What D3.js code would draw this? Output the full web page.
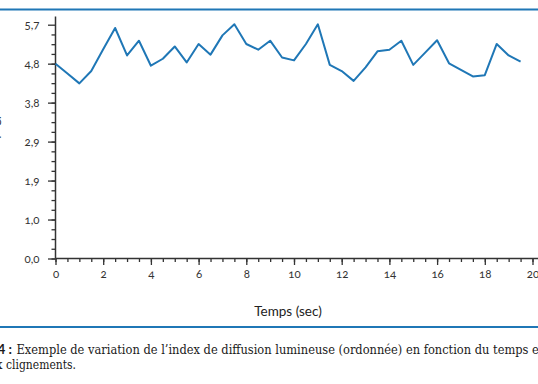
<!DOCTYPE html>
<html>
<head>
<meta charset="utf-8">
<script src="https://cdn.jsdelivr.net/npm/d3@7"></script>
<style>
  body{margin:0;background:#fff;}
  svg{display:block;}
  .tick text{font-family:Lato,"Open Sans",sans-serif;font-size:11.5px;fill:#333;font-variant-numeric:oldstyle-nums;}
</style>
</head>
<body>
<div id="chart"></div>
<script>
// time (sec), one point every 0.5 s
var times = [0,0.5,1,1.5,2,2.5,3,3.5,4,4.5,5,5.5,6,6.5,7,7.5,8,8.5,9,9.5,
	10,10.5,11,11.5,12,12.5,13,13.5,14,14.5,15,15.5,16,16.5,17,17.5,18,18.5,19,19.5];
var values = [4.75,4.51,4.27,4.57,5.10,5.62,4.95,5.31,4.70,4.87,5.17,4.78,5.23,4.97,5.44,5.71,5.23,5.09,5.31,4.90,
	4.83,5.23,5.71,4.72,4.57,4.33,4.66,5.05,5.09,5.31,4.72,5.02,5.32,4.76,4.60,4.44,4.47,5.23,4.95,4.80];
var yTicks = [0,0.95,1.9,2.85,3.8,4.75,5.7];
var yLabels = ["0,0","1,0","1,9","2,9","3,8","4,8","5,7"];
var xTicks = [0,2,4,6,8,10,12,14,16,18,20];

var W = 538, H = 384;
var blue = "#1f77b6", axisCol = "#333";

var svg = d3.select('#chart').append('svg').attr('width', W).attr('height', H);

var x = d3.scaleLinear().domain([0,20]).range([55.5,532.5]);
var y = d3.scaleLinear().domain([0,5.7]).range([258.5,24.7]);

// blue rules top and bottom
svg.append('line').attr('x1',0).attr('x2',W).attr('y1',9.5).attr('y2',9.5)
	.attr('stroke',blue).attr('stroke-width',2);
svg.append('line').attr('x1',0).attr('x2',W).attr('y1',327).attr('y2',327)
	.attr('stroke',blue).attr('stroke-width',2);

// minor ticks
var xMinor = d3.range(0, 20.01, 0.5);
var yMinor = d3.range(0, 24).map(function(i){ return i*0.95/4; });

svg.append('g').attr('transform','translate(0,'+y(0)+')')
	.call(d3.axisBottom(x).tickValues(xMinor).tickSize(3.5).tickFormat(''))
	.call(function(g){ g.select('.domain').remove(); });
svg.append('g').attr('transform','translate(0,'+y(0)+')')
	.call(d3.axisBottom(x).tickValues(xTicks).tickSize(6.5).tickPadding(5).tickFormat(d3.format('d')))
	.call(function(g){ g.select('.domain').remove(); });

svg.append('g').attr('transform','translate('+x(0)+',0)')
	.call(d3.axisLeft(y).tickValues(yMinor).tickSize(4).tickFormat(''))
	.call(function(g){ g.select('.domain').remove(); });
svg.append('g').attr('transform','translate('+x(0)+',0)')
	.call(d3.axisLeft(y).tickValues(yTicks).tickSize(7.5).tickPadding(8.5)
		.tickFormat(function(d,i){ return yLabels[i]; }))
	.call(function(g){ g.select('.domain').remove(); });

svg.selectAll('.tick line').attr('stroke',axisCol).attr('stroke-width',1.3);

// axis lines
svg.append('line').attr('x1',x(0)).attr('x2',W).attr('y1',y(0)).attr('y2',y(0))
	.attr('stroke',axisCol).attr('stroke-width',1.5);
svg.append('line').attr('x1',x(0)).attr('x2',x(0)).attr('y1',y(0)).attr('y2',16.5)
	.attr('stroke',axisCol).attr('stroke-width',1.5);

// data line
var line = d3.line().x(function(d,i){ return x(times[i]); }).y(function(d){ return y(d); });
svg.append('path').datum(values).attr('d',line)
	.attr('fill','none').attr('stroke',blue).attr('stroke-width',2).attr('stroke-linejoin','round');

// axis titles
svg.append('text').attr('x',288).attr('y',315.5).attr('text-anchor','middle')
	.style('font-family','Lato,"Open Sans",sans-serif').style('font-size','13.5px').style('fill','#222')
	.text('Temps (sec)');
// y title: only its lower edge shows at the left border in the reference
svg.append('text').attr('transform','translate(-1.5,139) rotate(-90)').attr('text-anchor','middle')
	.style('font-family','Lato,"Open Sans",sans-serif').style('font-size','13px').style('fill','#222')
	.text('IDL (log)');

// caption
var cap = svg.append('text').attr('y',353.5)
	.style('font-family','"DejaVu Serif",serif').style('font-size','12px').style('fill','#1a1a1a');
cap.append('tspan').attr('x',12).attr('text-anchor','end')
	.style('font-family','Lato,"Open Sans",sans-serif').style('font-weight','bold').style('font-size','13.5px')
	.text('Figure 4 :');
cap.append('tspan').attr('x',16.5).attr('text-anchor','start').attr('textLength',527).attr('lengthAdjust','spacingAndGlyphs')
	.text('Exemple de variation de l\u2019index de diffusion lumineuse (ordonnée) en fonction du temps et');
var cap2 = svg.append('text').attr('y',369)
	.style('font-family','"DejaVu Serif",serif').style('font-size','12px').style('fill','#1a1a1a');
cap2.append('tspan').attr('x',2.5).attr('text-anchor','end').text('dus aux');
cap2.append('tspan').attr('x',6).attr('text-anchor','start').attr('textLength',70).attr('lengthAdjust','spacingAndGlyphs')
	.text('clignements.');
</script>
</body>
</html>
